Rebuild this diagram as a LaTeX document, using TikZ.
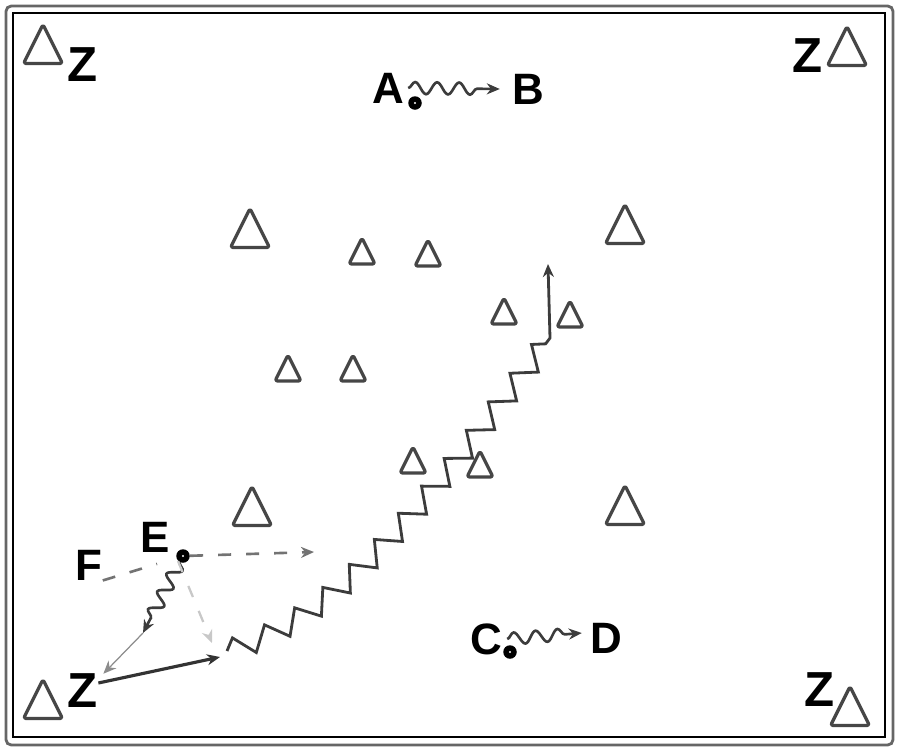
\documentclass[tikz,border=0pt]{standalone}
\usepackage{fontspec}
\setsansfont{Liberation Sans}
\usetikzlibrary{arrows.meta}
\usetikzlibrary{decorations.pathmorphing}

\definecolor{linegray}{RGB}{60,60,60}
\definecolor{conegray}{RGB}{70,70,70}
\definecolor{fadegray}{RGB}{200,200,200}

\tikzset{
  pics/cone/.style={code={
      \draw[conegray, line width=1.9pt, fill=white, rounded corners=1.5pt, line join=round]
        (0,-#1/2) -- (#1/2,#1/2) -- (-#1/2,#1/2) -- cycle;
  }}
}

\begin{document}
\begin{tikzpicture}[x=0.02cm, y=-0.02cm]
  \useasboundingbox (0,0) rectangle (900,751);

  % field frame
  \draw[black!60, line width=1.6pt, rounded corners=3pt] (6,6) rectangle (893,745);
  \draw[black, line width=0.6pt] (13,13) rectangle (885,737);

  % big cones
  \pic (cTL) at (43,44) {cone=39};
  \pic (cTR) at (847,46) {cone=39};
  \pic (cBL) at (43,699) {cone=39};
  \pic (cBR) at (850,706) {cone=39};
  \pic (c1) at (250,228) {cone=39};
  \pic (c2) at (625,224) {cone=39};
  \pic (c3) at (252,506) {cone=39};
  \pic (c4) at (625,505) {cone=39};
  % small cones
  \pic (s1) at (362,251) {cone=26};
  \pic (s2) at (428,253) {cone=26};
  \pic (s3) at (288,368) {cone=26};
  \pic (s4) at (353,368) {cone=26};
  \pic (s5) at (504,311) {cone=26};
  \pic (s6) at (570,314) {cone=26};
  \pic (s7) at (413,460) {cone=26};
  \pic (s8) at (480,464) {cone=26};

  \begin{scope}[every node/.style={font=\sffamily\bfseries\fontsize{25}{25}\selectfont, inner sep=0pt}]
    \node[font=\sffamily\bfseries\fontsize{28}{28}\selectfont] (zTL) at (83,65) {Z};
    \node[font=\sffamily\bfseries\fontsize{28}{28}\selectfont] (zTR) at (808,56) {Z};
    \node[font=\sffamily\bfseries\fontsize{28}{28}\selectfont] (zBL) at (83,691) {Z};
    \node[font=\sffamily\bfseries\fontsize{28}{28}\selectfont] (zBR) at (820,690) {Z};
    \node (A) at (388,88) {A};
    \node (B) at (528,89) {B};
    \node (C) at (486,639) {C};
    \node (D) at (606,638) {D};
    \node (E) at (155,537) {E};
    \node (F) at (89,565) {F};
  \end{scope}

  \begin{scope}[every node/.style={circle, fill=black, minimum size=0.27cm, inner sep=0pt,
        path picture={\fill[white] (path picture bounding box.center) circle (0.6pt);}}]
    \node (ballA) at (415,103) {};
    \node (ballC) at (510,652) {};
    \node (ballE) at (183,556) {};
  \end{scope}

  \coordinate (e1) at (143,633);
  \coordinate (k1) at (220,657);
  \coordinate (r0) at (227,651);
  \coordinate (r1) at (550,338);
  \coordinate (r2) at (548,264);
  \coordinate (p1) at (314,552);
  \coordinate (f1) at (212,643);

  \begin{scope}[>={Stealth[length=0.26cm, width=0.22cm]},
      dribbleline/.style={draw=linegray, line width=1.5pt, decorate,
        decoration={snake, segment length=0.44cm, amplitude=0.12cm, post length=0.24cm}},
      passline/.style={draw=black!45, line width=0.7pt},
      dashline/.style={draw=black!55, line width=1.5pt, dash pattern=on 0.26cm off 0.3cm},
      fadeline/.style={draw=fadegray, line width=1.3pt, dash pattern=on 0.24cm off 0.3cm}]
    \draw[dribbleline, ->] ([xshift=0.08cm]A.east) -- ([xshift=-0.24cm]B.west);
    \draw[dribbleline, ->] ([xshift=0.1cm]C.east) -- ([xshift=-0.16cm, yshift=0.1cm]D.west);
    \draw[dribbleline, ->, decoration={amplitude=0.13cm, segment length=0.4cm}] (ballE) -- (e1);
    \draw[passline, ->] (e1) -- ([xshift=0.1cm]zBL.north east);
    \draw[draw=black!80, line width=1.8pt, ->] ([yshift=0.16cm]zBL.east) -- (k1);
    \draw[dashline, ->] (ballE) -- (p1);
    \draw[dashline, shorten >=0.4cm] (F.south east) -- (ballE);
    \draw[fadeline, ->] (ballE.south west) -- (f1);
    \draw[draw=linegray, line width=1.6pt, ->] (r0)
      decorate[decoration={zigzag, segment length=0.72cm, amplitude=0.22cm}]
      {.. controls (330,620) and (400,540) .. (r1)} -- (r2);
  \end{scope}
\end{tikzpicture}
\end{document}
